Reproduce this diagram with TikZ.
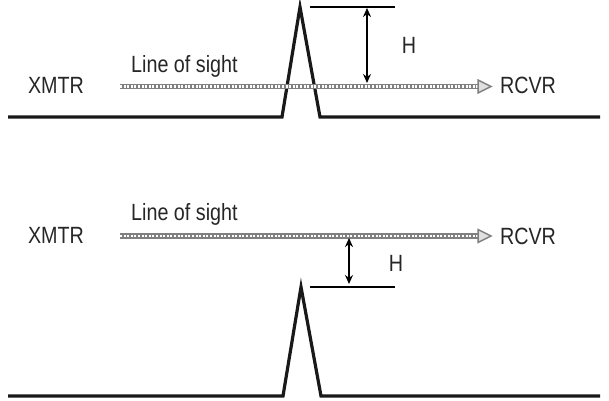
\documentclass[tikz,border=0pt]{standalone}
\usepackage{fontspec}
\setmainfont{Liberation Sans}[FakeStretch=0.84]
\usetikzlibrary{arrows.meta}
\begin{document}
\begin{tikzpicture}[x=1pt,y=-1pt,
  ground/.style={line width=3.2pt,line join=miter,color=black!90},
  lbl/.style={font=\fontsize{23.5}{26}\selectfont,color=black!85,inner sep=0pt},
  los/.style={line width=5.5pt,color=black!50},
  losdots/.style={line width=2.4pt,color=white,dash pattern=on 2pt off 1.6pt},
  loshead/.style={line width=1.5pt,color=black!50,fill=black!12},
  harrow/.style={line width=1.7pt,{Stealth[length=9pt,width=8pt]}-{Stealth[length=9pt,width=8pt]}},
  ref/.style={line width=2.2pt}]
\useasboundingbox (0,0) rectangle (609,400);
% ---------- top ----------
\coordinate (g1a) at (8,117);
\coordinate (g1b) at (282,117);
\coordinate (p1) at (300,7);
\coordinate (g1c) at (320,117);
\coordinate (g1d) at (600,117);
\draw[ground] (g1a) -- (g1b) -- (p1) -- (g1c) -- (g1d);
\coordinate (l1s) at (120,86.5);
\coordinate (l1e) at (478,86.5);
\coordinate (l1t) at (491,86.5);
\draw[los] (l1s) -- (l1e);
\draw[losdots] (l1s) -- (l1e);
\draw[loshead] (478,80) -- (l1t) -- (478,93) -- cycle;
\coordinate (r1a) at (310,7);
\coordinate (r1b) at (395,7);
\draw[ref] (r1a) -- (r1b);
\coordinate (h1t) at (367,8);
\coordinate (h1b) at (367,83);
\draw[harrow] (h1t) -- (h1b);
\node[lbl] (H1) at (409,45) {H};
\node[lbl] (x1) at (56,85) {XMTR};
\node[lbl] (rc1) at (528,85) {RCVR};
\node[lbl,anchor=west] (los1) at (131,66) {Line of sight};
% ---------- bottom ----------
\coordinate (g2a) at (8,396);
\coordinate (g2b) at (283,396);
\coordinate (p2) at (301,287);
\coordinate (g2c) at (321,396);
\coordinate (g2d) at (600,396);
\draw[ground] (g2a) -- (g2b) -- (p2) -- (g2c) -- (g2d);
\coordinate (l2s) at (120,236);
\coordinate (l2e) at (478,236);
\coordinate (l2t) at (491,236);
\draw[los] (l2s) -- (l2e);
\draw[losdots] (l2s) -- (l2e);
\draw[loshead] (478,229.5) -- (l2t) -- (478,242.5) -- cycle;
\coordinate (r2a) at (310,287);
\coordinate (r2b) at (395,287);
\draw[ref] (r2a) -- (r2b);
\coordinate (h2t) at (349,238);
\coordinate (h2b) at (349,284);
\draw[harrow] (h2t) -- (h2b);
\node[lbl] (H2) at (396,263) {H};
\node[lbl] (x2) at (56,235) {XMTR};
\node[lbl] (rc2) at (528,236) {RCVR};
\node[lbl,anchor=west] (los2) at (131,214) {Line of sight};
\end{tikzpicture}
\end{document}
